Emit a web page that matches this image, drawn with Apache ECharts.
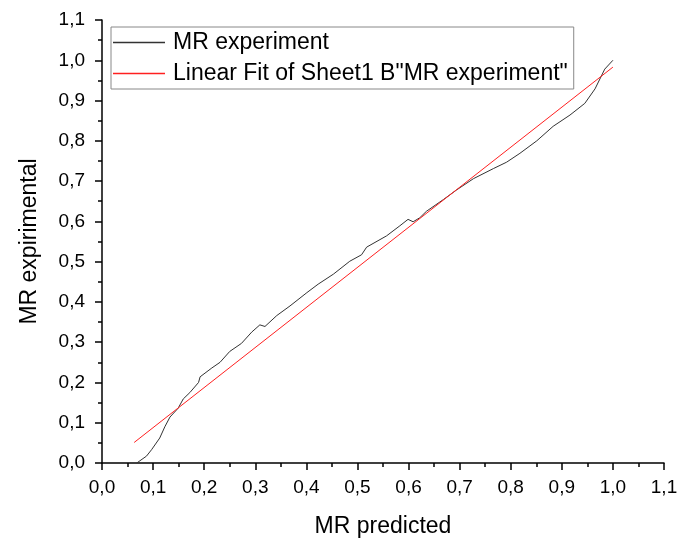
<!DOCTYPE html>
<html>
<head>
<meta charset="utf-8">
<script src="https://cdn.jsdelivr.net/npm/echarts@6/dist/echarts.min.js"></script>
<style>
	html, body { margin: 0; padding: 0; background: #fff; }
	#chart-box { width: 690px; height: 543px; }
</style>
</head>
<body>
<div id="chart-box"></div>
<script>
	// values
	var expX = [0.068, 0.087, 0.097, 0.113, 0.123, 0.133, 0.149, 0.159, 0.172, 0.189,
		0.192, 0.215, 0.231, 0.250, 0.273, 0.293, 0.309, 0.319, 0.342, 0.368,
		0.401, 0.423, 0.453, 0.485, 0.508, 0.518, 0.557, 0.583, 0.599, 0.609,
		0.622, 0.635, 0.668, 0.694, 0.727, 0.766, 0.792, 0.818, 0.851, 0.883,
		0.916, 0.945, 0.965, 0.984, 1.0];
	var expY = [0.0, 0.017, 0.033, 0.062, 0.090, 0.114, 0.136, 0.159, 0.175, 0.200,
		0.214, 0.236, 0.250, 0.277, 0.297, 0.325, 0.343, 0.339, 0.366, 0.390,
		0.423, 0.444, 0.469, 0.501, 0.517, 0.536, 0.564, 0.589, 0.605, 0.599,
		0.609, 0.625, 0.654, 0.678, 0.706, 0.731, 0.747, 0.769, 0.800, 0.836,
		0.864, 0.893, 0.929, 0.978, 1.0];
	var fitX = [0.063, 1.0];
	var fitY = [0.051, 0.983];

	var seriesNames = ["MR experiment", "Linear Fit of Sheet1 B\"MR experiment\""];

	function zip(xs, ys) {
		return xs.map(function (x, i) {
			return [x, ys[i]];
		});
	}

	function commaLabel(v) {
		return v.toFixed(1).replace(".", ",");
	}

	var font = "'Liberation Sans', Arial, sans-serif";

	var axisCommon = {
		type: "value",
		min: 0,
		max: 1.1,
		interval: 0.1,
		nameLocation: "middle",
		nameTextStyle: {
			fontFamily: font,
			fontSize: 23,
			color: "#000"
		},
		axisLine: {
			show: true,
			onZero: false,
			lineStyle: { color: "#000", width: 1.5 }
		},
		axisTick: {
			show: true,
			inside: false,
			length: 7,
			lineStyle: { color: "#000", width: 1.5 }
		},
		minorTick: {
			show: true,
			splitNumber: 2,
			length: 4,
			lineStyle: { color: "#000", width: 1.5 }
		},
		splitLine: { show: false },
		axisLabel: {
			fontFamily: font,
			fontSize: 19,
			color: "#000",
			formatter: commaLabel
		}
	};

	var chart = echarts.init(document.getElementById("chart-box"));
	var option = {
		animation: false,
		backgroundColor: "#fff",
		grid: {
			left: 102,
			right: 26,
			top: 20,
			bottom: 71,
			containLabel: false
		},
		legend: {
			orient: "vertical",
			left: 111,
			top: 27,
			padding: [4, 6, 4, 2],
			itemGap: 8,
			itemWidth: 52,
			itemHeight: 1.5,
			icon: "rect",
			borderColor: "#888",
			borderWidth: 1,
			textStyle: {
				fontFamily: font,
				fontSize: 23,
				color: "#000",
				padding: [0, 0, 0, 3]
			},
			data: seriesNames
		},
		xAxis: Object.assign({}, axisCommon, {
			name: "MR predicted",
			nameGap: 52,
			axisLabel: Object.assign({}, axisCommon.axisLabel, { margin: 15 })
		}),
		yAxis: Object.assign({}, axisCommon, {
			name: "MR expirimental",
			nameGap: 61,
			axisLabel: Object.assign({}, axisCommon.axisLabel, { margin: 17 })
		}),
		series: [
			{
				name: seriesNames[0],
				type: "line",
				symbol: "none",
				smooth: false,
				color: "#333",
				lineStyle: { color: "#333", width: 1 },
				data: zip(expX, expY)
			},
			{
				name: seriesNames[1],
				type: "line",
				symbol: "none",
				color: "#ff2020",
				lineStyle: { color: "#ff2020", width: 1 },
				data: zip(fitX, fitY)
			}
		]
	};

	chart.setOption(option);
</script>
</body>
</html>
